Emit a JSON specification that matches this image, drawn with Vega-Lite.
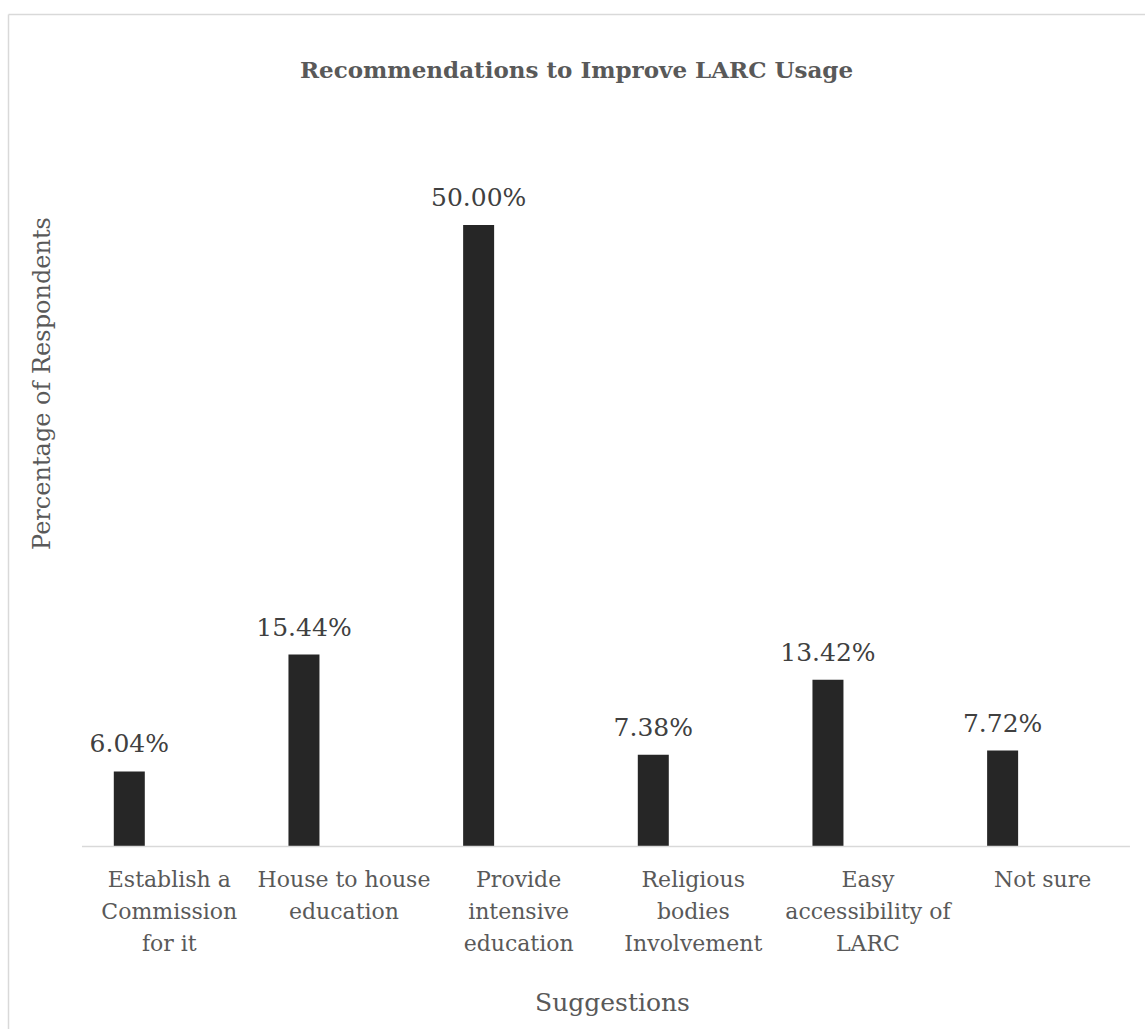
{
  "$schema": "https://vega.github.io/schema/vega-lite/v6.json",
  "width": 1137,
  "height": 1015,
  "autosize": {"type": "none"},
  "padding": {"left": 8, "top": 14, "right": 0, "bottom": 0},
  "background": "white",
  "config": {"view": {"stroke": null}, "font": "DejaVu Serif"},
  "title": {
    "text": "Recommendations to Improve LARC Usage",
    "font": "DejaVu Serif",
    "fontSize": 23,
    "fontWeight": "bold",
    "color": "#595959",
    "anchor": "middle",
    "frame": "group",
    "baseline": "alphabetic",
    "offset": 0,
    "dy": 87
  },
  "data": {
    "values": [
      {"suggestion": "Establish a Commission for it", "share": 0.0604},
      {"suggestion": "House to house education", "share": 0.1544},
      {"suggestion": "Provide intensive education", "share": 0.5},
      {"suggestion": "Religious bodies Involvement", "share": 0.0738},
      {"suggestion": "Easy accessibility of LARC", "share": 0.1342},
      {"suggestion": "Not sure", "share": 0.0772}
    ]
  },
  "resolve": {"axis": {"x": "independent"}},
  "layer": [
    {
      "mark": {"type": "bar", "width": 31, "xOffset": -40, "color": "#262626"},
      "encoding": {
        "x": {
          "field": "suggestion",
          "type": "nominal",
          "sort": null,
          "scale": {"paddingInner": 0, "paddingOuter": 0.2548, "align": 0.831},
          "axis": {
            "orient": "bottom",
            "offset": -182.5,
            "domain": false,
            "ticks": false,
            "grid": false,
            "labelAngle": 0,
            "labelFont": "DejaVu Serif",
            "labelFontSize": 22,
            "labelColor": "#595959",
            "labelPadding": 23,
            "labelLineHeight": 32,
            "labelBaseline": "top",
            "labelLimit": 0,
            "labelOverlap": false,
            "labelFlush": false,
            "labelExpr": "{'Establish a Commission for it': ['Establish a', 'Commission', 'for it'], 'House to house education': ['House to house', 'education'], 'Provide intensive education': ['Provide', 'intensive', 'education'], 'Religious bodies Involvement': ['Religious', 'bodies', 'Involvement'], 'Easy accessibility of LARC': ['Easy', 'accessibility of', 'LARC'], 'Not sure': ['Not sure']}[datum.value]",
            "title": "Suggestions",
            "titleFont": "DejaVu Serif",
            "titleFontSize": 25,
            "titleFontWeight": "normal",
            "titleColor": "#595959",
            "titleX": 604,
            "titleY": 163.5,
            "titleBaseline": "alphabetic",
            "titleAlign": "center"
          }
        },
        "y": {
          "field": "share",
          "type": "quantitative",
          "scale": {"domain": [-0.1468, 0.6698], "nice": false, "zero": false},
          "axis": {
            "domain": true,
            "domainColor": "#d9d9d9",
            "domainWidth": 1.5,
            "ticks": false,
            "labels": false,
            "grid": false,
            "title": "Percentage of Respondents",
            "titleFont": "DejaVu Serif",
            "titleFontSize": 24,
            "titleFontWeight": "normal",
            "titleColor": "#595959",
            "titleX": 34,
            "titleY": 369,
            "titleAngle": 270,
            "titleAlign": "center",
            "titleBaseline": "middle"
          }
        }
      }
    },
    {
      "mark": {
        "type": "text",
        "xOffset": -40,
        "dy": -19,
        "baseline": "alphabetic",
        "align": "center",
        "font": "DejaVu Serif",
        "fontSize": 25,
        "color": "#404040"
      },
      "encoding": {
        "x": {
          "field": "suggestion",
          "type": "nominal",
          "sort": null,
          "axis": {
            "orient": "top",
            "domain": true,
            "domainColor": "#d9d9d9",
            "domainWidth": 1.5,
            "ticks": false,
            "labels": false,
            "grid": false,
            "title": null
          }
        },
        "y": {"field": "share", "type": "quantitative"},
        "text": {"field": "share", "type": "quantitative", "format": ".2%"}
      }
    },
    {
      "data": {"values": [{}]},
      "mark": {"type": "rule", "color": "#d9d9d9", "strokeWidth": 1.5},
      "encoding": {
        "x": {"datum": "Establish a Commission for it", "bandPosition": 0},
        "x2": {"datum": "Not sure", "bandPosition": 1},
        "y": {"datum": 0}
      }
    }
  ]
}
